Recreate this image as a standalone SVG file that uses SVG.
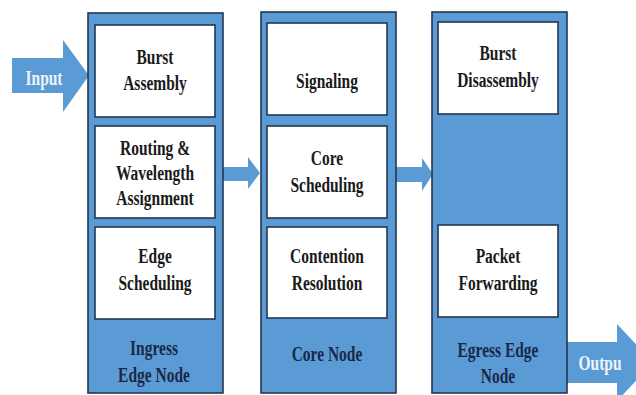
<svg xmlns="http://www.w3.org/2000/svg" width="636" height="395" viewBox="0 0 636 395">
<style>
.outer{fill:#5b9bd5;stroke:#24364f;stroke-width:1.6}
.inner{fill:#ffffff;stroke:#24364f;stroke-width:1.6}
.arrow{fill:#5b9bd5;stroke:none}
.t{font-family:"Liberation Serif","Times New Roman",serif;font-weight:bold;font-size:21.5px;fill:#1a1a1a;text-anchor:middle}
.lbl{fill:#1a2848}
.w{fill:#eef3f9}
</style>
<rect width="636" height="395" fill="#ffffff"/>
<g id="connectors">
<polygon class="arrow" points="12,58 63,58 63,40 89,75.5 63,112 63,93 12,93"/>
<polygon class="arrow" points="223,167 248,167 248,157 260,173 248,189 248,181 223,181"/>
<polygon class="arrow" points="396,167 422,167 422,158 433,174 422,191 422,182 396,182"/>
<polygon class="arrow" points="567,342 617,342 617,324 653,362.5 617,401 617,383 567,383"/>
<text class="t w" transform="translate(44,85) scale(0.72,1)">Input</text>
<text class="t w" transform="translate(600,370) scale(0.72,1)">Outpu</text>
</g>
<g id="ingress">
<rect class="outer" x="88" y="13" width="135" height="380"/>
<text class="t lbl" transform="translate(154,355) scale(0.72,1)">Ingress</text>
<text class="t lbl" transform="translate(154,382) scale(0.72,1)">Edge Node</text>
</g>
<g id="burst-assembly">
<rect class="inner" x="95" y="25" width="120" height="92"/>
<text class="t" transform="translate(155,64) scale(0.72,1)">Burst</text>
<text class="t" transform="translate(155,90) scale(0.72,1)">Assembly</text>
</g>
<g id="routing">
<rect class="inner" x="95" y="126" width="120" height="92"/>
<text class="t" transform="translate(155,155) scale(0.72,1)">Routing &amp;</text>
<text class="t" transform="translate(155,180) scale(0.72,1)">Wavelength</text>
<text class="t" transform="translate(155,205) scale(0.72,1)">Assignment</text>
</g>
<g id="edge-scheduling">
<rect class="inner" x="95" y="227" width="120" height="92"/>
<text class="t" transform="translate(155,263) scale(0.72,1)">Edge</text>
<text class="t" transform="translate(155,290) scale(0.72,1)">Scheduling</text>
</g>
<g id="core">
<rect class="outer" x="261" y="12" width="135" height="381"/>
<text class="t lbl" transform="translate(327,361) scale(0.72,1)">Core Node</text>
</g>
<g id="signaling">
<rect class="inner" x="267" y="23" width="120" height="92"/>
<text class="t" transform="translate(327,88) scale(0.72,1)">Signaling</text>
</g>
<g id="core-scheduling">
<rect class="inner" x="267" y="126" width="120" height="92"/>
<text class="t" transform="translate(327,165) scale(0.72,1)">Core</text>
<text class="t" transform="translate(327,192) scale(0.72,1)">Scheduling</text>
</g>
<g id="contention">
<rect class="inner" x="267" y="227" width="120" height="91"/>
<text class="t" transform="translate(327,263) scale(0.72,1)">Contention</text>
<text class="t" transform="translate(327,290) scale(0.72,1)">Resolution</text>
</g>
<g id="egress">
<rect class="outer" x="432" y="12" width="135" height="381"/>
<text class="t lbl" transform="translate(498,357) scale(0.72,1)">Egress Edge</text>
<text class="t lbl" transform="translate(498,383) scale(0.72,1)">Node</text>
</g>
<g id="burst-disassembly">
<rect class="inner" x="438" y="22" width="120" height="92"/>
<text class="t" transform="translate(498,60) scale(0.72,1)">Burst</text>
<text class="t" transform="translate(498,87) scale(0.72,1)">Disassembly</text>
</g>
<g id="packet-forwarding">
<rect class="inner" x="438" y="225" width="120" height="92"/>
<text class="t" transform="translate(498,263) scale(0.72,1)">Packet</text>
<text class="t" transform="translate(498,290) scale(0.72,1)">Forwarding</text>
</g>
</svg>
